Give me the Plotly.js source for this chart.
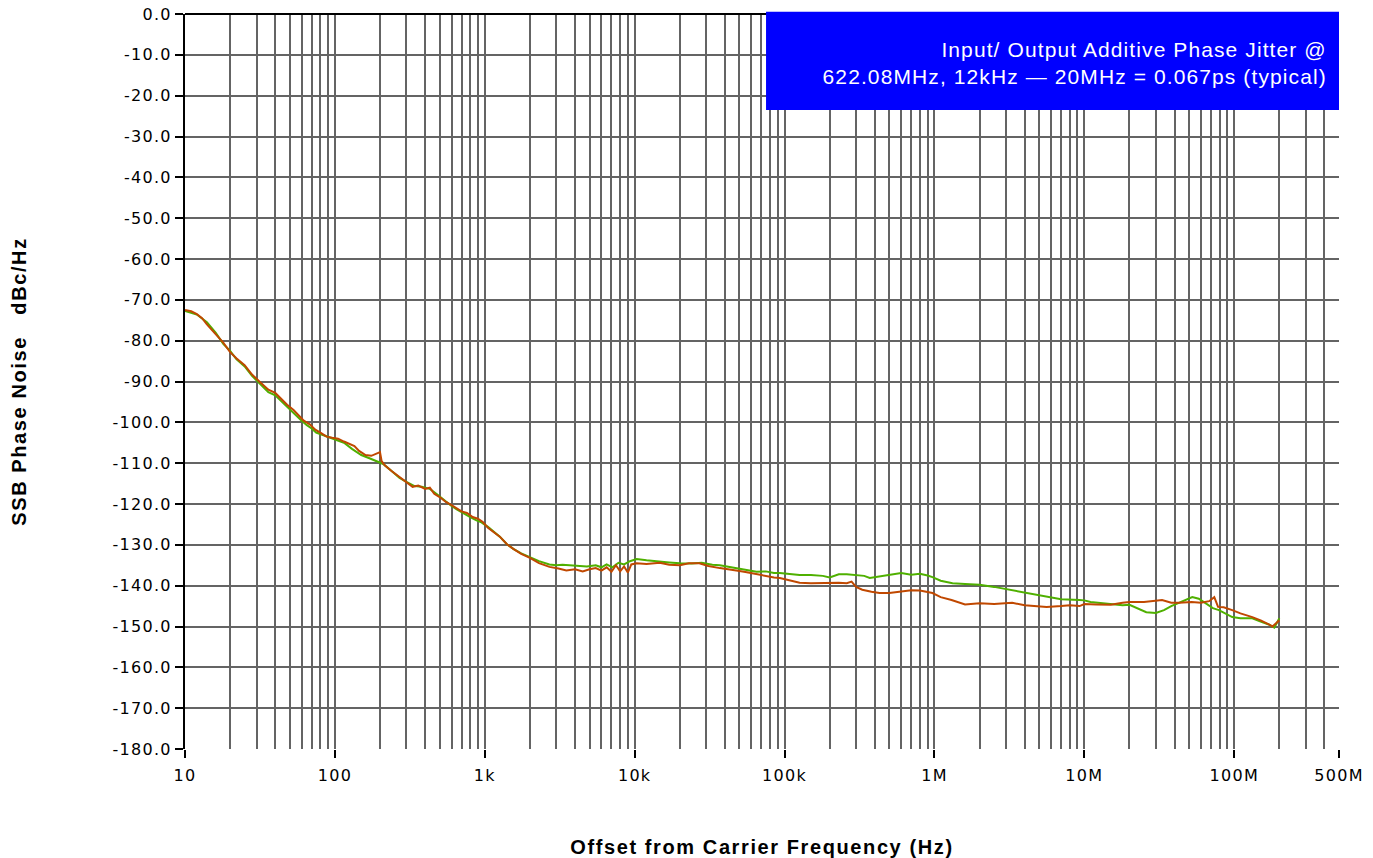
<!DOCTYPE html>
<html>
<head>
<meta charset="utf-8">
<script src="https://cdn.plot.ly/plotly-3.0.1.min.js"></script>
<style>
html,body{margin:0;padding:0;background:#fff;}
#chart{width:1373px;height:858px;}
#chart .ytick text, #chart .xtick text{letter-spacing:1.3px;}
#chart .xtitle, #chart .ytitle{letter-spacing:1.6px;}
#chart .annotation-text{letter-spacing:1.1px;}
</style>
</head>
<body>
<div id="chart"></div>
<script>
// Orange trace (frequency in Hz, phase noise in dBc/Hz)
var orangeFreq = [10,11,12,13,14,15,16,18,20,22,25,28,32,36,40,43,48,53,58,62,68,74,80,88,96,105,115,125,135,145,160,175,190,200,205,215,240,270,300,330,360,400,430,460,500,550,600,650,700,760,830,900,970,1050,1150,1260,1400,1550,1750,2000,2300,2700,3100,3500,4000,4500,5000,5500,6000,6500,7000,7500,8000,8500,9000,9500,10300,12000,14700,17000,20000,23000,27000,31000,37000,44000,50000,56000,65000,75000,85000,93000,110000,126000,150000,180000,200000,230000,260000,280000,300000,330000,380000,430000,500000,600000,700000,800000,900000,970000,1100000,1300000,1600000,2000000,2500000,3300000,4000000,5000000,5600000,7000000,8000000,9300000,10000000,12000000,15000000,18000000,20000000,25000000,30000000,33000000,38000000,43000000,52000000,60000000,68000000,73600000,78000000,85000000,97000000,110000000,132000000,150000000,170000000,180000000,190000000,200000000];
var orangeDb = [-72.5,-72.8,-73.5,-74.5,-76,-77.3,-78.5,-80.5,-82.8,-84.3,-86,-88.3,-90.3,-92,-92.8,-94,-95.7,-97,-98.5,-99.6,-100.5,-101.8,-102.5,-103.5,-103.8,-104,-104.7,-105.2,-105.8,-107,-108,-108.2,-107.6,-107.3,-109.5,-110.5,-112,-113.4,-114.5,-115.8,-115.5,-116.3,-116,-117.5,-118.3,-119.5,-120.3,-121,-121.8,-122.2,-123.2,-123.6,-124.4,-125.8,-127,-128,-129.8,-131,-132.2,-133.2,-134.5,-135.4,-135.8,-136.3,-136,-136.5,-136,-135.7,-136.3,-135.5,-136.6,-135,-136.5,-135.3,-136.8,-134.8,-134.5,-134.7,-134.4,-134.9,-135,-134.5,-134.5,-135.2,-135.7,-136,-136.4,-136.7,-137.2,-137.5,-138,-138.1,-138.7,-139.3,-139.4,-139.3,-139.4,-139.3,-139.4,-139,-140.3,-141,-141.5,-141.8,-141.8,-141.4,-141.1,-141.2,-141.5,-141.8,-142.8,-143.5,-144.6,-144.3,-144.5,-144.2,-144.8,-145,-145.2,-145,-144.8,-145,-144.5,-144.6,-144.7,-144.2,-144,-144,-143.6,-143.5,-144.2,-144.2,-144,-144.2,-143.8,-142.8,-145.2,-145.3,-146,-146.8,-147.7,-148.5,-149.5,-150,-149.2,-148.5];

// Green trace
var greenFreq = [10,12,14,16,18,20,22,25,28,32,36,40,45,50,55,60,65,70,75,82,90,100,115,130,150,170,190,210,240,270,300,340,380,430,480,540,600,650,720,800,880,950,1050,1150,1260,1400,1550,1750,2000,2300,2700,3000,3300,3700,4200,4800,5500,6000,6500,7100,7800,8500,9300,10300,12000,14700,17000,20000,24000,28000,33000,37000,44000,50000,56000,65000,75000,85000,93000,110000,126000,150000,180000,200000,230000,260000,300000,340000,370000,420000,500000,600000,700000,800000,900000,970000,1100000,1320000,1600000,2000000,2500000,3300000,4200000,5600000,7000000,9300000,10000000,11000000,12500000,15400000,18000000,20000000,23000000,25900000,30000000,34000000,38000000,43000000,48000000,52500000,58000000,65000000,72000000,79000000,88000000,97000000,110000000,132000000,150000000,170000000,185000000,200000000];
var greenDb = [-72.7,-73.6,-75.5,-78,-80.8,-82.5,-84.5,-86.3,-88.6,-90.6,-92.6,-93.4,-95.2,-96.8,-98.5,-99.6,-100.7,-101.5,-102.5,-103,-103.7,-104.2,-105,-106.5,-108,-108.8,-109.5,-110.2,-112,-113.6,-114.6,-115.6,-115.8,-116.3,-117.6,-119.2,-120.5,-121.3,-122.3,-123.2,-124,-124.5,-125.6,-126.8,-128,-129.8,-131,-132.1,-133,-134,-134.8,-135,-134.9,-135,-135.2,-135.3,-135,-135.5,-134.8,-135.5,-134.4,-134.8,-134,-133.5,-133.8,-134,-134.3,-134.5,-134.6,-134.4,-134.9,-135,-135.5,-136,-136.2,-136.6,-136.5,-136.9,-136.9,-137.1,-137.4,-137.4,-137.6,-138,-137.2,-137.2,-137.4,-137.6,-138.1,-137.8,-137.2,-136.9,-137.3,-137.1,-137.5,-137.9,-138.8,-139.4,-139.6,-139.8,-140.3,-141.1,-141.9,-142.8,-143.3,-143.5,-143.6,-144,-144.2,-144.7,-144.8,-144.7,-145.6,-146.5,-146.7,-146,-145,-144.2,-143.4,-142.8,-143.2,-144.5,-145.5,-146,-146.8,-147.7,-148,-148,-148.8,-149.5,-150.3,-148];

// Axis ticks
var xTickVals = [10,100,1000,10000,100000,1000000,10000000,100000000,500000000];
var xTickText = ['10','100','1k','10k','100k','1M','10M','100M','500M'];
var xMinorVals = [20,30,40,50,60,70,80,90,200,300,400,500,600,700,800,900,2000,3000,4000,5000,6000,7000,8000,9000,20000,30000,40000,50000,60000,70000,80000,90000,200000,300000,400000,500000,600000,700000,800000,900000,2000000,3000000,4000000,5000000,6000000,7000000,8000000,9000000,20000000,30000000,40000000,50000000,60000000,70000000,80000000,90000000,200000000,300000000,400000000];
var yTickVals = [0,-10,-20,-30,-40,-50,-60,-70,-80,-90,-100,-110,-120,-130,-140,-150,-160,-170,-180];
var yTickText = yTickVals.map(function(v){return v.toFixed(1);});

var noteLines = ['Input/ Output Additive Phase Jitter @','622.08MHz, 12kHz \u2014 20MHz = 0.067ps (typical)'];

var gridCol = '#646464';
var traces = [
  {x: greenFreq, y: greenDb, type: 'scatter', mode: 'lines', line: {color: '#4fb000', width: 2}, hoverinfo: 'x+y'},
  {x: orangeFreq, y: orangeDb, type: 'scatter', mode: 'lines', line: {color: '#c04800', width: 2}, hoverinfo: 'x+y'}
];

var layout = {
  width: 1373, height: 858,
  margin: {l: 185, r: 34, t: 14, b: 109},
  paper_bgcolor: '#ffffff', plot_bgcolor: '#ffffff',
  showlegend: false,
  font: {family: 'DejaVu Sans, Verdana, sans-serif', size: 16, color: '#000'},
  xaxis: {
    type: 'log', range: [1, Math.log10(5e8)],
    tickmode: 'array', tickvals: xTickVals, ticktext: xTickText,
    ticks: 'outside', ticklen: 8, tickwidth: 2, tickcolor: '#000',
    ticklabelstandoff: 4,
    showgrid: true, gridcolor: gridCol, gridwidth: 2,
    minor: {tickmode: 'array', tickvals: xMinorVals, showgrid: true, gridcolor: gridCol, gridwidth: 2, ticks: ''},
    showline: false, zeroline: false,
    tickfont: {family: 'DejaVu Sans, Verdana, sans-serif', size: 16, color: '#000'},
    title: {text: 'Offset from Carrier Frequency (Hz)', font: {family: 'Liberation Sans, Arial, sans-serif', size: 20, color: '#000', weight: 'bold'}, standoff: 56}
  },
  yaxis: {
    range: [-180, 0],
    tickmode: 'array', tickvals: yTickVals, ticktext: yTickText,
    ticks: 'outside', ticklen: 8, tickwidth: 2, tickcolor: '#000',
    showgrid: true, gridcolor: gridCol, gridwidth: 2,
    showline: true, linecolor: '#000', linewidth: 2, zeroline: false,
    tickfont: {family: 'DejaVu Sans, Verdana, sans-serif', size: 16, color: '#000'},
    title: {text: 'SSB Phase Noise &nbsp; dBc/Hz', font: {family: 'Liberation Sans, Arial, sans-serif', size: 20, color: '#000', weight: 'bold'}, standoff: 88}
  },
  shapes: [
    {type: 'line', xref: 'paper', yref: 'paper', x0: 0, x1: 1, y0: 1, y1: 1, line: {color: '#000', width: 2}, layer: 'above'},
    {type: 'rect', xref: 'paper', yref: 'paper', x0: 0.5035, x1: 1.0, y0: 0.8694, y1: 1.003, fillcolor: '#0000ff', line: {width: 0}, layer: 'above'}
  ],
  annotations: [
    {xref: 'paper', yref: 'paper', x: 0.991, y: 0.933, xanchor: 'right', yanchor: 'middle', align: 'right', showarrow: false,
     text: noteLines.join('<br>'), font: {family: 'Liberation Sans, Arial, sans-serif', size: 21, color: '#ffffff'}}
  ]
};

Plotly.newPlot('chart', traces, layout, {staticPlot: true, displayModeBar: false});
</script>
</body>
</html>
